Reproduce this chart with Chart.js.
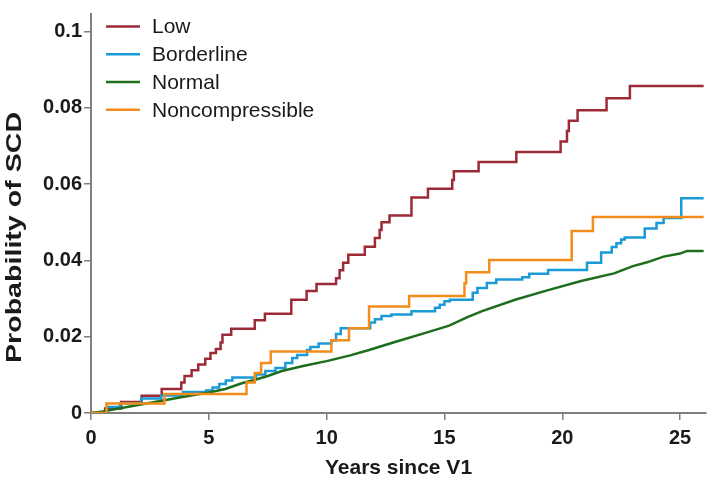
<!DOCTYPE html>
<html>
<head>
<meta charset="utf-8">
<script src="https://cdn.jsdelivr.net/npm/chart.js@4.4.1/dist/chart.umd.min.js"></script>
<style>
html,body{margin:0;padding:0;background:#fff;}
#wrap{width:709px;height:478px;}
</style>
</head>
<body>
<div id="wrap"><canvas id="c" width="709" height="478"></canvas></div>
<script>
// ---- data ----
const seriesNames = ['Low', 'Borderline', 'Normal', 'Noncompressible'];

const lowYears = [0, 0.6, 1.28, 2.15, 3.0, 3.83, 3.97, 4.27, 4.55, 4.85, 5.07, 5.3, 5.5, 5.58, 5.95, 6.95, 7.38, 8.5, 9.15, 9.57, 10.4, 10.55, 10.7, 10.92, 11.62, 12.05, 12.25, 12.33, 12.67, 13.6, 14.3, 15.33, 15.4, 16.45, 18.05, 19.93, 20.2, 20.28, 20.65, 21.88, 22.87, 26.0];
const lowProb  = [0, 0.0012, 0.0029, 0.0045, 0.0063, 0.008, 0.0097, 0.0112, 0.0127, 0.0142, 0.0157, 0.0168, 0.0185, 0.0205, 0.0221, 0.0243, 0.026, 0.0297, 0.032, 0.0338, 0.0353, 0.0374, 0.0394, 0.0415, 0.0436, 0.0459, 0.048, 0.05, 0.0518, 0.0565, 0.0588, 0.0611, 0.0634, 0.0658, 0.0684, 0.0712, 0.0739, 0.0766, 0.0794, 0.0825, 0.0857, 0.0857];

const borderYears = [0, 0.66, 1.22, 2.14, 2.98, 3.9, 4.88, 5.16, 5.44, 5.72, 6.0, 7.0, 7.4, 7.83, 8.25, 8.54, 8.75, 9.17, 9.31, 9.66, 10.2, 10.4, 10.6, 11.85, 12.05, 12.33, 12.75, 13.6, 14.6, 14.8, 15.0, 15.23, 16.2, 16.4, 16.8, 17.2, 18.3, 18.6, 19.4, 21.05, 21.65, 22.1, 22.3, 22.5, 22.65, 23.5, 24.0, 24.3, 25.05, 26.0];
const borderProb  = [0, 0.0016, 0.0025, 0.0038, 0.0046, 0.0055, 0.0059, 0.0067, 0.0076, 0.0085, 0.0093, 0.0101, 0.011, 0.0118, 0.0131, 0.0144, 0.0152, 0.0165, 0.0173, 0.0182, 0.019, 0.0207, 0.0222, 0.0237, 0.0246, 0.0254, 0.0258, 0.0267, 0.0276, 0.0284, 0.0293, 0.0297, 0.0315, 0.0328, 0.0341, 0.035, 0.0356, 0.0365, 0.0375, 0.0394, 0.0421, 0.0435, 0.0445, 0.0455, 0.046, 0.0484, 0.0498, 0.0511, 0.0563, 0.0563];

const normalYears = [0, 0.5, 1, 2, 3, 4, 5, 5.7, 6.4, 7, 7.5, 8.1, 9, 10, 11, 11.8, 12.9, 14.3, 15.2, 16, 16.6, 18, 19.4, 20.8, 22.2, 23.0, 23.6, 24.3, 25.0, 25.3, 26.0];
const normalProb  = [0, 0.0004, 0.001, 0.0021, 0.0032, 0.0043, 0.0054, 0.0063, 0.0078, 0.0088, 0.0097, 0.011, 0.0123, 0.0136, 0.0151, 0.0165, 0.0186, 0.0212, 0.0229, 0.0252, 0.0267, 0.0297, 0.0322, 0.0346, 0.0366, 0.0385, 0.0395, 0.041, 0.0418, 0.0425, 0.0425];

const noncompYears = [0, 0.66, 3.12, 6.6, 6.95, 7.22, 7.63, 10.2, 10.95, 11.8, 13.5, 15.85, 15.92, 16.9, 20.4, 21.3, 26.0];
const noncompProb  = [0, 0.0025, 0.005, 0.008, 0.0105, 0.0131, 0.0161, 0.0191, 0.0222, 0.0279, 0.0307, 0.034, 0.0369, 0.0401, 0.0477, 0.0514, 0.0514];

const xTicks = [0, 5, 10, 15, 20, 25];
const yTicks = [0, 0.02, 0.04, 0.06, 0.08, 0.1];
const yTickLabels = ['0', '0.02', '0.04', '0.06', '0.08', '0.1'];
const xTitle = 'Years since V1';
const yTitle = 'Probability of SCD';

// ---- styles ----
const colors = ['#9c2b37', '#1a9ad6', '#1c6e1c', '#f28c1c'];
const AXIS = '#7f7f7f';
const TXT = '#1a1a1a';
const FONT = '"Liberation Sans", Arial, Helvetica, sans-serif';

function pts(xs, ys) { return xs.map((x, i) => ({x: x, y: ys[i]})); }

const datasets = [
  {label: seriesNames[0], data: pts(lowYears, lowProb), stepped: true, order: 4},
  {label: seriesNames[1], data: pts(borderYears, borderProb), stepped: true, order: 3},
  {label: seriesNames[2], data: pts(normalYears, normalProb), stepped: false, order: 2},
  {label: seriesNames[3], data: pts(noncompYears, noncompProb), stepped: true, order: 1}
].map((d, i) => Object.assign(d, {
  borderColor: colors[i], backgroundColor: colors[i], borderWidth: 2.5,
  pointRadius: 0, fill: false, tension: 0
}));

const overlay = {
  id: 'overlay',
  afterDraw(chart) {
    const ctx = chart.ctx;
    ctx.save();
    // legend inside plot
    const rows = [26.5, 54.3, 82, 109.8];
    ctx.font = '21px ' + FONT;
    ctx.textBaseline = 'middle';
    ctx.textAlign = 'left';
    seriesNames.forEach((name, i) => {
      ctx.strokeStyle = colors[i];
      ctx.lineWidth = 2.6;
      ctx.beginPath();
      ctx.moveTo(106, rows[i]);
      ctx.lineTo(140, rows[i]);
      ctx.stroke();
      ctx.fillStyle = TXT;
      ctx.fillText(name, 152, rows[i] + 1);
    });
    // x title
    ctx.font = 'bold 21px ' + FONT;
    ctx.textAlign = 'center';
    ctx.textBaseline = 'alphabetic';
    ctx.fillStyle = TXT;
    ctx.fillText(xTitle, (chart.chartArea.left + chart.chartArea.right) / 2, 474);
    // y title
    ctx.translate(21, 237.5);
    ctx.rotate(-Math.PI / 2);
    ctx.scale(1.3, 1);
    ctx.font = 'bold 22px ' + FONT;
    ctx.textBaseline = 'alphabetic';
    ctx.fillText(yTitle, 0, 0);
    ctx.restore();
  }
};

new Chart(document.getElementById('c'), {
  type: 'line',
  data: {datasets: datasets},
  options: {
    responsive: false,
    animation: false,
    devicePixelRatio: 1,
    layout: {padding: {left: 0, right: 3, top: 3, bottom: 0}},
    plugins: {legend: {display: false}, tooltip: {enabled: false}},
    scales: {
      x: {
        type: 'linear', min: 0, max: 26.1,
        afterBuildTicks: (s) => { s.ticks = xTicks.map(v => ({value: v})); },
        afterFit: (s) => { s.height = 65; },
        ticks: {color: TXT, font: {family: FONT, size: 20, weight: 'bold'}, padding: 6, maxRotation: 0,
                callback: (v) => String(v)},
        grid: {drawOnChartArea: false, drawTicks: true, tickLength: 7, color: AXIS, lineWidth: 1.5},
        border: {color: AXIS, width: 2}
      },
      y: {
        type: 'linear', min: 0, max: 0.1046,
        afterBuildTicks: (s) => { s.ticks = yTicks.map(v => ({value: v})); },
        afterFit: (s) => { s.width = 91; },
        ticks: {color: TXT, font: {family: FONT, size: 20, weight: 'bold'}, padding: 2,
                callback: (v) => { const k = yTicks.findIndex(t => Math.abs(t - v) < 1e-9); return k >= 0 ? yTickLabels[k] : ''; }},
        grid: {drawOnChartArea: false, drawTicks: true, tickLength: 7, color: AXIS, lineWidth: 1.5},
        border: {color: AXIS, width: 2}
      }
    }
  },
  plugins: [overlay]
});
</script>
</body>
</html>
